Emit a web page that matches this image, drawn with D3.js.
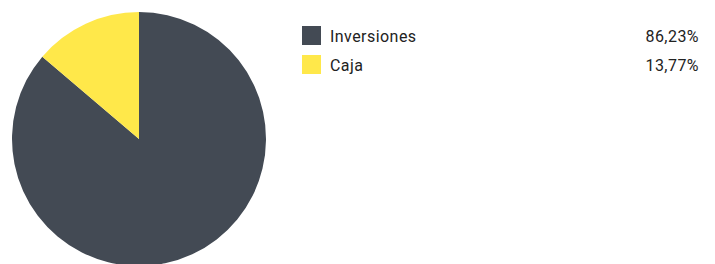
<!DOCTYPE html>
<html>
<head>
<meta charset="utf-8">
<script src="https://cdn.jsdelivr.net/npm/d3@7"></script>
<style>
  html, body { margin: 0; padding: 0; background: #fff; }
  svg { display: block; }
</style>
</head>
<body>
<svg id="chart" width="715" height="264"></svg>
<script>
// Data
const categories = ['Inversiones', 'Caja'];
const values = [86.23, 13.77];
const labels = ['86,23%', '13,77%'];
const colors = ['#434a54', '#ffe84a'];

const svg = d3.select('#chart');

// Pie
const cx = 139, cy = 139, radius = 127;

const pie = d3.pie().sort(null).value(d => d);
const arc = d3.arc().innerRadius(0).outerRadius(radius);

const pieGroup = svg.append('g')
  .attr('transform', `translate(${cx},${cy})`);

pieGroup.selectAll('path.slice')
  .data(pie(values))
  .enter()
  .append('path')
  .attr('class', 'slice')
  .attr('d', arc)
  .attr('fill', (d, i) => colors[i]);

// Legend
const legend = svg.append('g').attr('class', 'legend');
const rowY = d3.scaleBand()
  .domain(categories)
  .range([26, 26 + 29 * categories.length]);

const rows = legend.selectAll('g.row')
  .data(categories)
  .enter()
  .append('g')
  .attr('class', 'row')
  .attr('transform', d => `translate(0,${rowY(d)})`);

rows.append('rect')
  .attr('x', 302)
  .attr('y', 0)
  .attr('width', 19)
  .attr('height', 19)
  .attr('fill', (d, i) => colors[i]);

rows.append('text')
  .attr('x', 330)
  .attr('y', 16)
  .attr('font-family', 'Roboto, sans-serif')
  .attr('font-size', 16)
  .attr('letter-spacing', 0.45)
  .attr('fill', '#222')
  .text(d => d);

rows.append('text')
  .attr('x', 699)
  .attr('y', 16)
  .attr('text-anchor', 'end')
  .attr('font-family', 'Roboto, sans-serif')
  .attr('font-size', 16)
  .attr('letter-spacing', 0.45)
  .attr('fill', '#222')
  .text((d, i) => labels[i]);
</script>
</body>
</html>
